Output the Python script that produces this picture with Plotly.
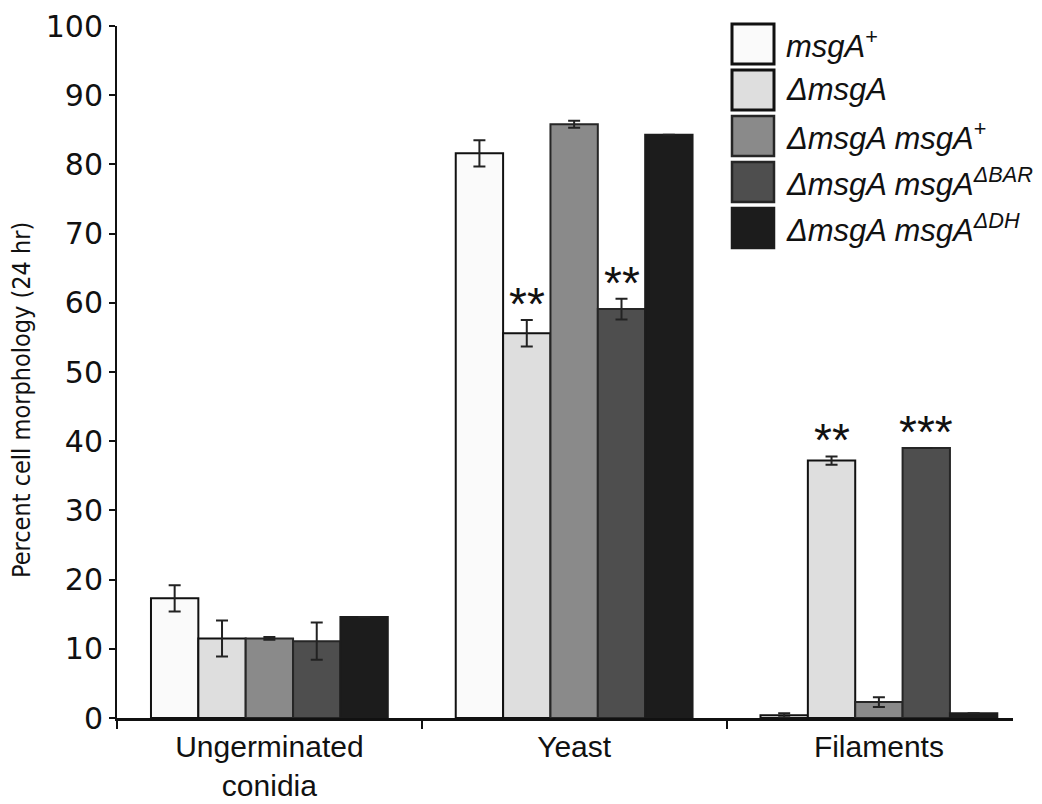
import plotly.graph_objects as go

# ---------------- data ----------------
categories = ["Ungerminated<br>conidia", "Yeast", "Filaments"]
series_names = [
    "<i>msgA</i><sup>+</sup>",
    "<i>ΔmsgA</i>",
    "<i>ΔmsgA msgA</i><sup>+</sup>",
    "<i>ΔmsgA msgA<sup>ΔBAR</sup></i>",
    "<i>ΔmsgA msgA<sup>ΔDH</sup></i>",
]
wt_vals = [17.3, 81.6, 0.4]
wt_err = [1.9, 1.9, 0.3]
del_vals = [11.5, 55.6, 37.2]
del_err = [2.6, 1.9, 0.6]
comp_vals = [11.5, 85.8, 2.3]
comp_err = [0.2, 0.5, 0.7]
bar_vals = [11.1, 59.1, 39.0]
bar_err = [2.7, 1.5, None]
dh_vals = [14.6, 84.3, 0.7]
dh_err = [None, None, None]

wt_stars = ["", "", ""]
del_stars = ["", "**", "**"]
comp_stars = ["", "", ""]
bar_stars = ["", "**", "***"]
dh_stars = ["", "", ""]

y_ticks = [0, 10, 20, 30, 40, 50, 60, 70, 80, 90, 100]

# ---------------- style ----------------
fills = ["#fafafa", "#dedede", "#8a8a8a", "#4e4e4e", "#1c1c1c"]
edges = ["#111111", "#111111", "#262626", "#262626", "#1c1c1c"]
bargap = 0.223
SANS = "Liberation Sans, Arial, Helvetica, sans-serif"

values = [wt_vals, del_vals, comp_vals, bar_vals, dh_vals]
errors = [wt_err, del_err, comp_err, bar_err, dh_err]
stars = [wt_stars, del_stars, comp_stars, bar_stars, dh_stars]

fig = go.Figure()
for k in range(5):
    fig.add_trace(go.Bar(
        x=categories, y=values[k], name=series_names[k],
        marker=dict(color=fills[k], line=dict(color=edges[k], width=2)),
        error_y=dict(type="data", array=errors[k], visible=True,
                     color="#222222", thickness=2, width=6),
        showlegend=False, hoverinfo="skip",
    ))

# significance stars
nser = len(values)
w = (1 - bargap) / nser
for k in range(nser):
    for i in range(len(categories)):
        if stars[k][i]:
            e = errors[k][i] or 0
            fig.add_annotation(
                x=i + (k - (nser - 1) / 2) * w, y=values[k][i] + e,
                xref="x", yref="y", text=stars[k][i], showarrow=False,
                yanchor="bottom", yshift=-12,
                font=dict(family=SANS, size=46, color="#111"),
            )

# custom legend (big swatches)
L, R, T, B = 117, 1013, 26, 718
PW, PH = R - L, B - T
def px(xp):
    return (xp - L) / PW
def py(yp):
    return (B - yp) / PH
for k in range(nser):
    top = 24 + 46 * k
    fig.add_shape(type="rect", xref="paper", yref="paper",
                  x0=px(732), x1=px(774), y0=py(top + 40), y1=py(top),
                  fillcolor=fills[k],
                  line=dict(color=edges[k], width=3 if k < 2 else 2.5))
    fig.add_annotation(xref="paper", yref="paper", x=px(784), y=py(top + 20),
                       xanchor="left", yanchor="middle", showarrow=False,
                       text=series_names[k],
                       font=dict(family=SANS, size=31, color="#111"))

# y axis title
fig.add_annotation(xref="paper", yref="paper", x=px(22), y=py(400),
                   text="Percent cell morphology (24 hr)", textangle=-90,
                   showarrow=False, xanchor="center", yanchor="middle",
                   font=dict(family="Liberation Sans Narrow, DejaVu Sans Condensed, Arial Narrow, sans-serif",
                             size=25, color="#111"))

fig.update_layout(
    width=1042, height=804,
    margin=dict(l=L, r=1042 - R, t=T, b=804 - B, autoexpand=False),
    paper_bgcolor="white", plot_bgcolor="white",
    barmode="group", bargap=bargap, bargroupgap=0,
    showlegend=False,
)
fig.update_xaxes(
    range=[-0.5, 2.44], tickson="boundaries", ticks="outside", ticklen=8,
    tickwidth=2, tickcolor="#111", showline=True, linecolor="#111", linewidth=2.5,
    showgrid=False, zeroline=False, automargin=False,
    tickfont=dict(family=SANS, size=30, color="#111"),
)
fig.update_yaxes(
    range=[0, 100], tickvals=y_ticks, ticks="outside", ticklen=6, tickwidth=2,
    tickcolor="#111", showline=True, linecolor="#111", linewidth=2,
    showgrid=False, zeroline=False, automargin=False,
    tickfont=dict(family="DejaVu Sans", size=30, color="#111"),
)

fig.write_html(
    "out.html",
    config={"displayModeBar": False},
    post_script="document.body.style.margin='0';document.body.style.overflow='hidden';",
)
